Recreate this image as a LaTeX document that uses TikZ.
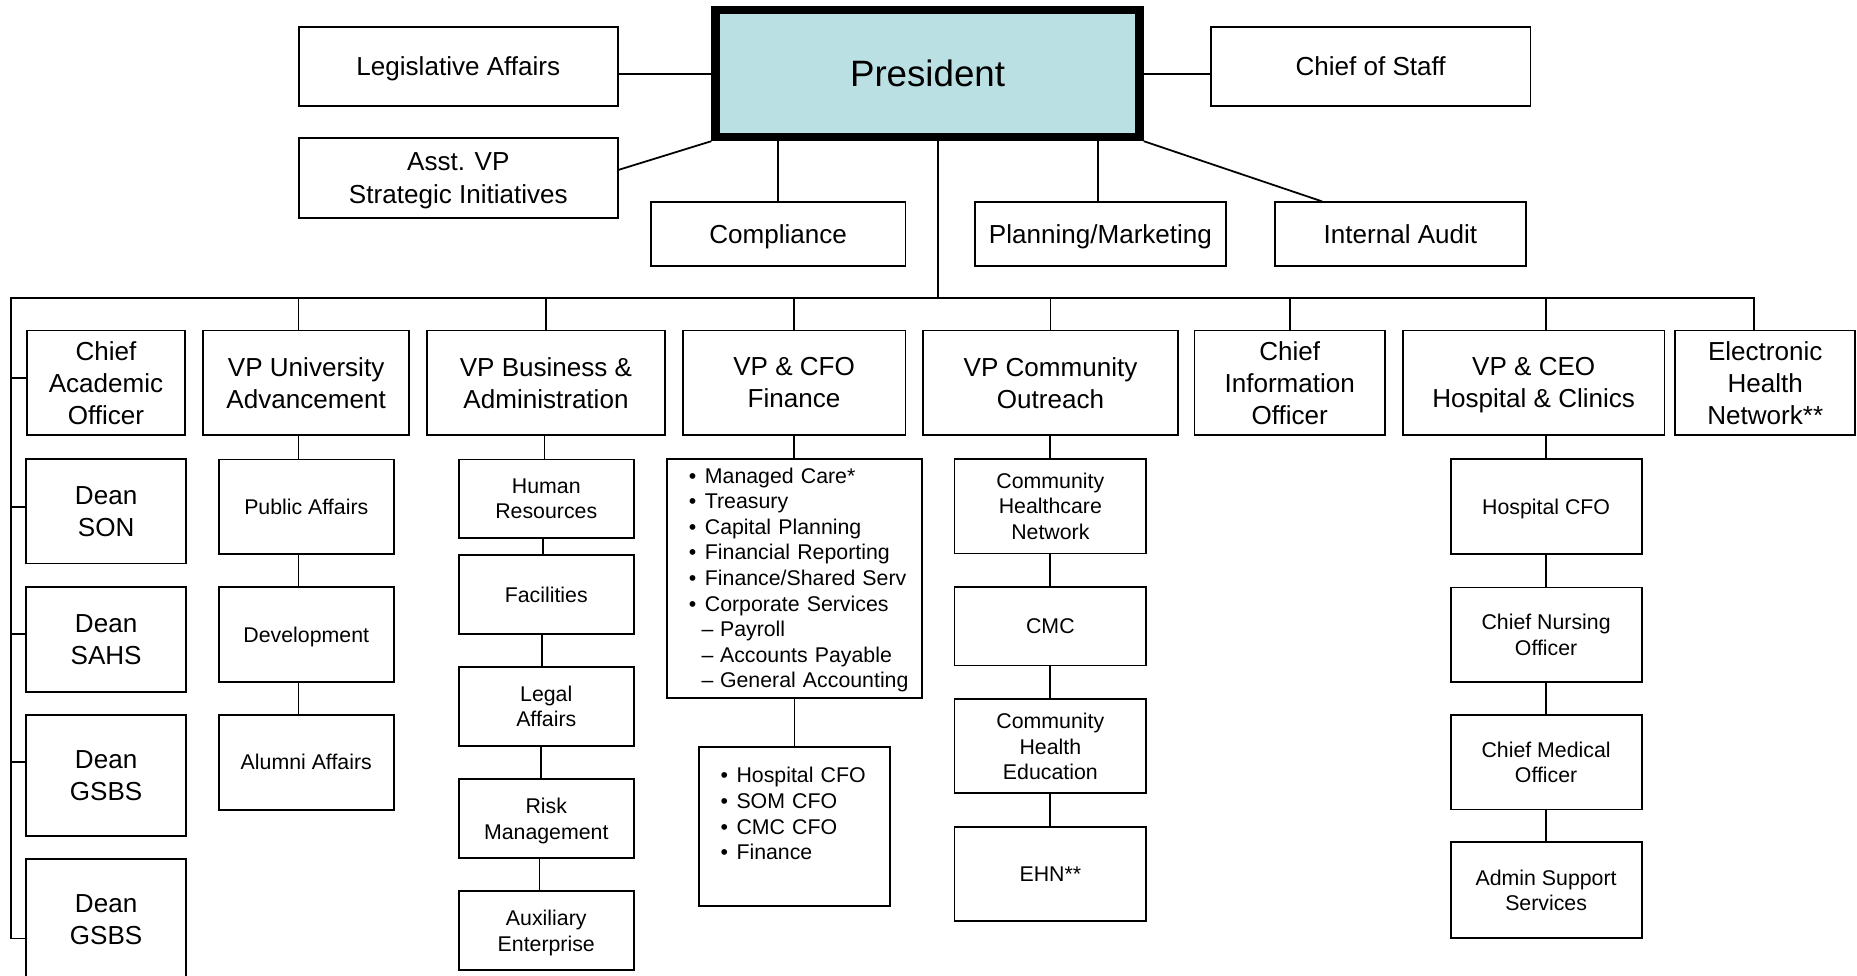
\documentclass[tikz,border=0pt]{standalone}
\usepackage{fontspec}
\setmainfont{Liberation Sans}
\usetikzlibrary{calc}
\definecolor{presfill}{RGB}{186,224,228}
\newcommand\finbul[1]{\mbox{\makebox[13.5pt][l]{\textbullet}#1}}
\newcommand\findash[1]{\mbox{\hspace*{10.8pt}\makebox[15.5pt][l]{\textendash}#1}}
\tikzset{
  box/.style={draw, line width=1.5pt, inner sep=0pt, align=center, text depth=0pt, font=\fontsize{22}{27}\selectfont},
  sub/.style={box, font=\fontsize{18}{21.5}\selectfont},
  wh/.style 2 args={minimum width=#1pt, minimum height=#2pt},
  conn/.style={line width=1.5pt},
  finlist/.style={draw, line width=1.5pt, inner sep=0pt, align=left, font=\fontsize{18}{21.6}\selectfont},
}
\begin{document}
\begin{tikzpicture}[x=1pt,y=-1pt]
\useasboundingbox (0,0) rectangle (1568,824);

% top level
\node[box, wh={358}{107}, line width=7pt, fill=presfill, font=\fontsize{31}{37}\selectfont] (pres) at (783.2,62.2) {President};
\node[box, wh={269}{67}] (leg) at (387,56) {Legislative Affairs};
\node[box, wh={269}{67}, font=\fontsize{22}{28}\selectfont] (asst) at (387,150.3) {Asst. VP\\Strategic Initiatives};
\node[box, wh={270}{67}] (cos) at (1157.3,56) {Chief of Staff};
\node[box, wh={215}{54}] (comp) at (657,197.8) {Compliance};
\node[box, wh={212}{54}] (plan) at (929.2,197.8) {Planning/Marketing};
\node[box, wh={212}{54}] (audit) at (1182.5,197.8) {Internal Audit};

% second row
\node[box, wh={134}{88.4}] (cao) at (89.5,323.3) {Chief\\Academic\\Officer};
\node[box, wh={174}{88.4}] (vpu) at (258.5,323.3) {VP University\\Advancement};
\node[box, wh={201}{88.4}] (vpb) at (461,323.3) {VP Business \&\\Administration};
\node[box, wh={188}{88.4}] (vpf) at (670.5,323.3) {VP \& CFO\\Finance};
\node[box, wh={215}{88.4}] (vpc) at (887,323.3) {VP Community\\Outreach};
\node[box, wh={161}{88.4}] (cio) at (1089,323.3) {Chief\\Information\\Officer};
\node[box, wh={221}{88.4}] (vph) at (1295,323.3) {VP \& CEO\\Hospital \& Clinics};
\node[box, wh={152}{88.4}] (ehn) at (1490.5,323.3) {Electronic\\Health\\Network**};

% deans
\node[box, wh={134.8}{88}] (son) at (89.6,431.85) {Dean\\SON};
\node[box, wh={134.8}{88.6}] (sahs) at (89.6,539.8) {Dean\\SAHS};
\node[box, wh={134.8}{102.4}] (gsbs) at (89.6,654.7) {Dean\\GSBS};
\node[box, wh={134.8}{103}] (gsbs2) at (89.6,776.5) {Dean\\GSBS};

% university advancement
\node[sub, wh={147.8}{79.6}] (pa) at (258.6,427.7) {Public Affairs};
\node[sub, wh={147.8}{80.5}] (dev) at (258.6,535.75) {Development};
\node[sub, wh={147.8}{80.2}] (alum) at (258.6,643.6) {Alumni Affairs};

% business & administration
\node[sub, wh={147.7}{66.6}] (hr) at (461.25,421.2) {Human\\Resources};
\node[sub, wh={147.7}{66.6}] (fac) at (461.25,502) {Facilities};
\node[sub, wh={147.7}{66.9}] (legal) at (461.25,596.55) {Legal\\Affairs};
\node[sub, wh={147.7}{66.9}] (risk) at (461.25,691.25) {Risk\\Management};
\node[sub, wh={147.7}{66.6}] (aux) at (461.25,785.8) {Auxiliary\\Enterprise};

% finance
\node[finlist, wh={215.6}{201.6}, text width=178pt] (fin1) at (670.7,488.3) {%
\rule{0pt}{16pt}\finbul{Managed Care*}\\
\finbul{Treasury}\\
\finbul{Capital Planning}\\
\finbul{Financial Reporting}\\
\finbul{Finance/Shared Serv}\\
\finbul{Corporate Services}\\
\findash{Payroll}\\
\findash{Accounts Payable}\\
\findash{General Accounting}};
\node[finlist, wh={161.3}{134.6}, text width=124.9pt] (fin2) at (670.85,697.8) {%
\finbul{Hospital CFO}\\
\finbul{SOM CFO}\\
\finbul{CMC CFO}\\
\finbul{Finance}\\
\mbox{}};

% community outreach
\node[sub, wh={161.8}{79.8}] (chn) at (886.9,427.4) {Community\\Healthcare\\Network};
\node[sub, wh={161.8}{66}] (cmc) at (886.9,528.9) {CMC};
\node[sub, wh={161.8}{79.4}] (che) at (886.9,630.2) {Community\\Health\\Education};
\node[sub, wh={161.8}{79.3}] (ehn2) at (886.9,738.15) {EHN**};

% hospital & clinics
\node[sub, wh={161.3}{80}] (hcfo) at (1305.5,427.5) {Hospital CFO};
\node[sub, wh={161.3}{80}] (cno) at (1305.5,536) {Chief Nursing\\Officer};
\node[sub, wh={161.3}{80}] (cmo) at (1305.5,643.5) {Chief Medical\\Officer};
\node[sub, wh={161.3}{80.6}] (adm) at (1305.5,751.5) {Admin Support\\Services};

% connectors: top level
\draw[conn] (pres.west) -- (pres.west -| leg.east);
\draw[conn] (pres.east) -- (pres.east -| cos.west);
\draw[conn] (pres.south west) -- ($(asst.north east)!0.4!(asst.south east)$);
\draw[conn] (comp.north) -- (comp.north |- pres.south);
\coordinate (planT) at ([xshift=-1.8pt]plan.north);
\draw[conn] (planT) -- (planT |- pres.south);
\draw[conn] (pres.south east) -- ($(audit.north west)!0.19!(audit.north east)$);

% bus
\coordinate (busL) at (9,251.4);
\coordinate (busR) at (1481.3,251.4);
\coordinate (busM) at (792.3,251.4);
\draw[conn] (pres.south -| busM) -- (busM);
\coordinate (tk5) at ([yshift=-16pt]gsbs2.west);
\draw[conn] (tk5) -- (tk5 -| busL) -- (busL) -- (busR) -- (ehn.north -| busR);
\foreach \n/\s in {cao/4, son/4, sahs/4.3, gsbs/11.3}{
  \coordinate (tk) at ([yshift=\s pt]\n.west);
  \draw[conn] (tk) -- (tk -| busL);
}

% university advancement column
\coordinate (xu) at (252,0);
\draw[conn] (xu |- busL) -- (xu |- vpu.north);
\draw[conn] (vpu.south -| xu) -- (pa.north -| xu);
\draw[conn] (pa.south -| xu) -- (dev.north -| xu);
\draw[conn] (dev.south -| xu) -- (alum.north -| xu);

% business column
\draw[conn] (vpb.north) -- (vpb.north |- busL);
\coordinate (hrT) at ([xshift=-1.5pt]hr.north);
\draw[conn] (hrT) -- (hrT |- vpb.south);
\coordinate (facT) at ([xshift=-2.6pt]fac.north);
\draw[conn] (facT) -- (facT |- hr.south);
\coordinate (legalT) at ([xshift=-3.7pt]legal.north);
\draw[conn] (legalT) -- (legalT |- fac.south);
\coordinate (riskT) at ([xshift=-4.7pt]risk.north);
\draw[conn] (riskT) -- (riskT |- legal.south);
\coordinate (auxT) at ([xshift=-5.7pt]aux.north);
\draw[conn] (auxT) -- (auxT |- risk.south);

% finance column
\draw[conn] (vpf.north) -- (vpf.north |- busL);
\draw[conn] (fin1.north) -- (fin1.north |- vpf.south);
\draw[conn] (fin2.north) -- (fin2.north |- fin1.south);

% community column
\draw[conn] (vpc.north) -- (vpc.north |- busL);
\draw[conn] (chn.north) -- (chn.north |- vpc.south);
\draw[conn] (cmc.north) -- (cmc.north |- chn.south);
\draw[conn] (che.north) -- (che.north |- cmc.south);
\draw[conn] (ehn2.north) -- (ehn2.north |- che.south);

% CIO
\draw[conn] (cio.north) -- (cio.north |- busL);

% hospital column
\coordinate (xh) at (1305.6,0);
\draw[conn] (xh |- busL) -- (xh |- vph.north);
\draw[conn] (hcfo.north) -- (hcfo.north |- vph.south);
\draw[conn] (cno.north) -- (cno.north |- hcfo.south);
\draw[conn] (cmo.north) -- (cmo.north |- cno.south);
\draw[conn] (adm.north) -- (adm.north |- cmo.south);
\end{tikzpicture}
\end{document}
